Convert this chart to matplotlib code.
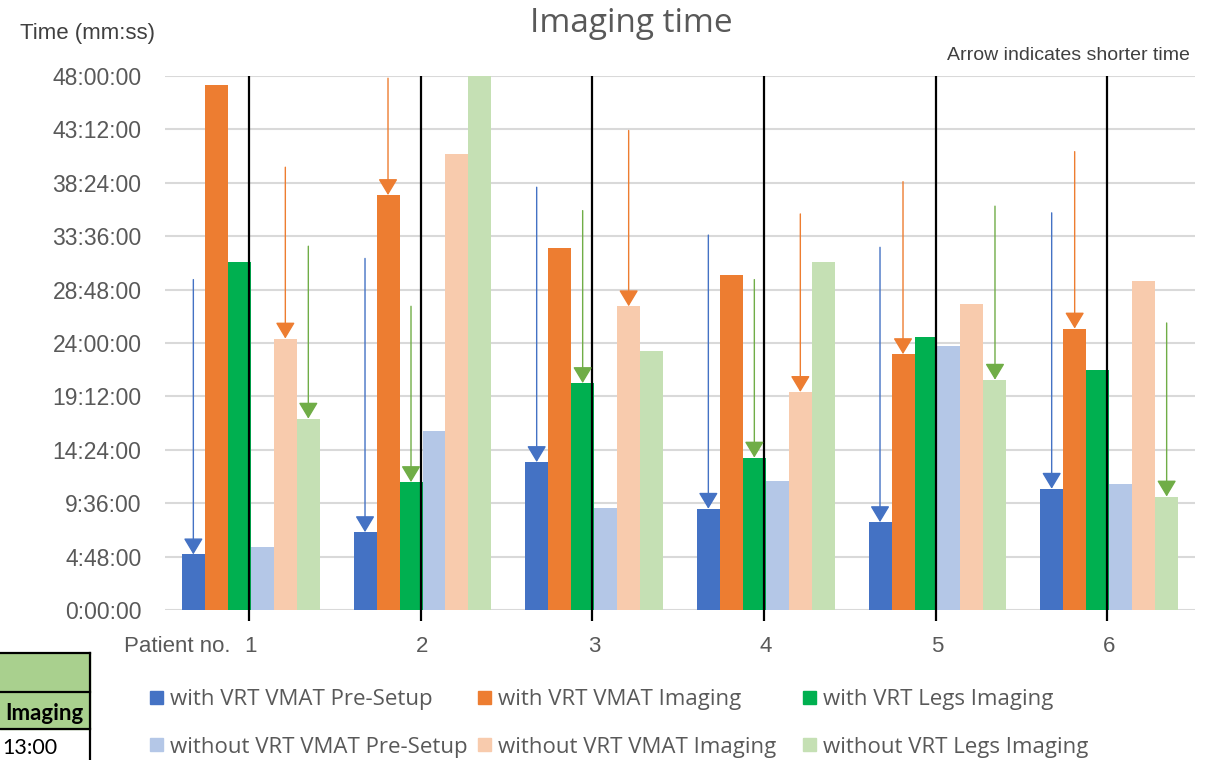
import matplotlib
matplotlib.use('Agg')
import matplotlib.pyplot as plt
from matplotlib.patches import Rectangle
import numpy as np

# patient numbers on the category axis
patients = ['1', '2', '3', '4', '5', '6']

# times in hours, as the Excel axis shows them (h:mm:ss)
with_pre = [5.0, 7.0, 13.3, 9.1, 7.9, 10.9]
with_vmat = [47.2, 37.3, 32.5, 30.1, 23.0, 25.3]
with_legs = [31.3, 11.5, 20.4, 13.7, 24.5, 21.6]
without_pre = [5.7, 16.1, 9.2, 11.6, 23.7, 11.3]
without_vmat = [24.4, 41.0, 27.3, 19.6, 27.5, 29.6]
without_legs = [17.2, 48.0, 23.3, 31.3, 20.7, 10.2]

series_names = ['with VRT VMAT Pre-Setup', 'with VRT VMAT Imaging', 'with VRT Legs Imaging',
                'without VRT VMAT Pre-Setup', 'without VRT VMAT Imaging', 'without VRT Legs Imaging']
series_colors = ['#4472C4', '#ED7D31', '#00B050', '#B4C7E7', '#F8CBAD', '#C5E0B4']

# arrows: (patient index, series index, arrow start value)
blue_arrows = [(0, 0, 29.7), (1, 0, 31.6), (2, 0, 38.0), (3, 0, 33.7), (4, 0, 32.6), (5, 0, 35.7)]
orange_arrows = [(0, 4, 39.8), (1, 1, 47.8), (2, 4, 43.1), (3, 4, 35.6), (4, 1, 38.5), (5, 1, 41.2)]
green_arrows = [(0, 5, 32.7), (1, 2, 27.3), (2, 2, 35.9), (3, 2, 29.7), (4, 5, 36.3), (5, 5, 25.8)]

y_ticks = [0, 4.8, 9.6, 14.4, 19.2, 24, 28.8, 33.6, 38.4, 43.2, 48]
y_tick_labels = ['0:00:00', '4:48:00', '9:36:00', '14:24:00', '19:12:00', '24:00:00',
                 '28:48:00', '33:36:00', '38:24:00', '43:12:00', '48:00:00']

W, H = 1211, 760
fig = plt.figure(figsize=(W / 100, H / 100), dpi=100)
ax = fig.add_axes([165 / W, 1 - 610 / H, (1195 - 165) / W, (610 - 76) / H])

all_series = [with_pre, with_vmat, with_legs, without_pre, without_vmat, without_legs]
x = np.arange(1, len(patients) + 1)
bw = 23 / 171.7
for k, vals in enumerate(all_series):
    ax.bar(x + (k - 2.5) * bw, vals, width=bw, color=series_colors[k], zorder=2)

# black separators between "with" and "without" groups
ax.vlines(x - 0.01, -1.0, 48, colors='black', lw=1.6, zorder=4, clip_on=False)

for arrows, col in [(blue_arrows, '#4472C4'), (orange_arrows, '#ED7D31'), (green_arrows, '#70AD47')]:
    for p, s, start in arrows:
        xp = x[p] + (s - 2.5) * bw
        ax.annotate('', xy=(xp, all_series[s][p]), xytext=(xp, start),
                    arrowprops=dict(arrowstyle='-|>,head_length=1.0,head_width=0.6', color=col,
                                    lw=1.0, shrinkA=0, shrinkB=0, mutation_scale=10), zorder=5)

ax.set_xlim(0.5, 6.5)
ax.set_ylim(0, 48)
ax.set_yticks(y_ticks)
ax.set_yticklabels(y_tick_labels, family='Liberation Sans', fontsize=16.5, color='#595959')
ax.set_xticks(x)
ax.set_xticklabels(patients, family='Liberation Sans', fontsize=16, color='#595959')
ax.tick_params(axis='y', length=0, pad=17)
ax.tick_params(axis='x', length=0, pad=19)
ax.grid(axis='y', color='#d9d9d9', lw=1.5, zorder=0)
ax.set_axisbelow(True)
for sp in ax.spines.values():
    sp.set_visible(False)

fig.text(631 / W, 1 - 23 / H, 'Imaging time', family='Open Sans', fontsize=24, color='#595959',
         ha='center', va='center')
fig.text(20 / W, 1 - 34 / H, 'Time (mm:ss)', family='Liberation Sans', fontsize=16, color='#404040',
         ha='left', va='center')
fig.text(1190 / W, 1 - 55 / H, 'Arrow indicates shorter time', family='Liberation Sans', fontsize=14,
         color='#404040', ha='right', va='center')
fig.text(230 / W, 1 - 646 / H, 'Patient no.', family='Liberation Sans', fontsize=16, color='#595959',
         ha='right', va='center')

# legend, laid out like the Excel one
leg_cols = [150, 478, 803]
leg_rows = [698, 745]
for k, name in enumerate(series_names):
    lx = leg_cols[k % 3]
    ly = leg_rows[k // 3]
    fig.patches.append(Rectangle((lx / W, 1 - (ly + 6) / H), 13 / W, 13 / H,
                                 transform=fig.transFigure, color=series_colors[k]))
    fig.text((lx + 20) / W, 1 - (ly + 2) / H, name, family='Open Sans', fontsize=16, color='#595959',
             ha='left', va='center')

# piece of a neighbouring table at the bottom left
fig.patches.append(Rectangle((0, 1 - 729 / H), 90 / W, (729 - 653) / H, transform=fig.transFigure,
                             color='#A9D08E', zorder=0))
for yy in [653, 692, 729]:
    fig.add_artist(plt.Line2D([0, 90 / W], [1 - yy / H, 1 - yy / H], color='black', lw=1.6,
                              transform=fig.transFigure))
fig.add_artist(plt.Line2D([90 / W, 90 / W], [1 - 653 / H, 0], color='black', lw=1.6,
                          transform=fig.transFigure))
fig.text(84 / W, 1 - 713 / H, 'Imaging', family='Lato', fontweight='bold', fontsize=16,
         color='black', ha='right', va='center')
fig.text(2 / W, 1 - 748 / H, '13:00', family='Lato', fontsize=15.5, color='black',
         ha='left', va='center')

fig.savefig('out.png', dpi=100)
